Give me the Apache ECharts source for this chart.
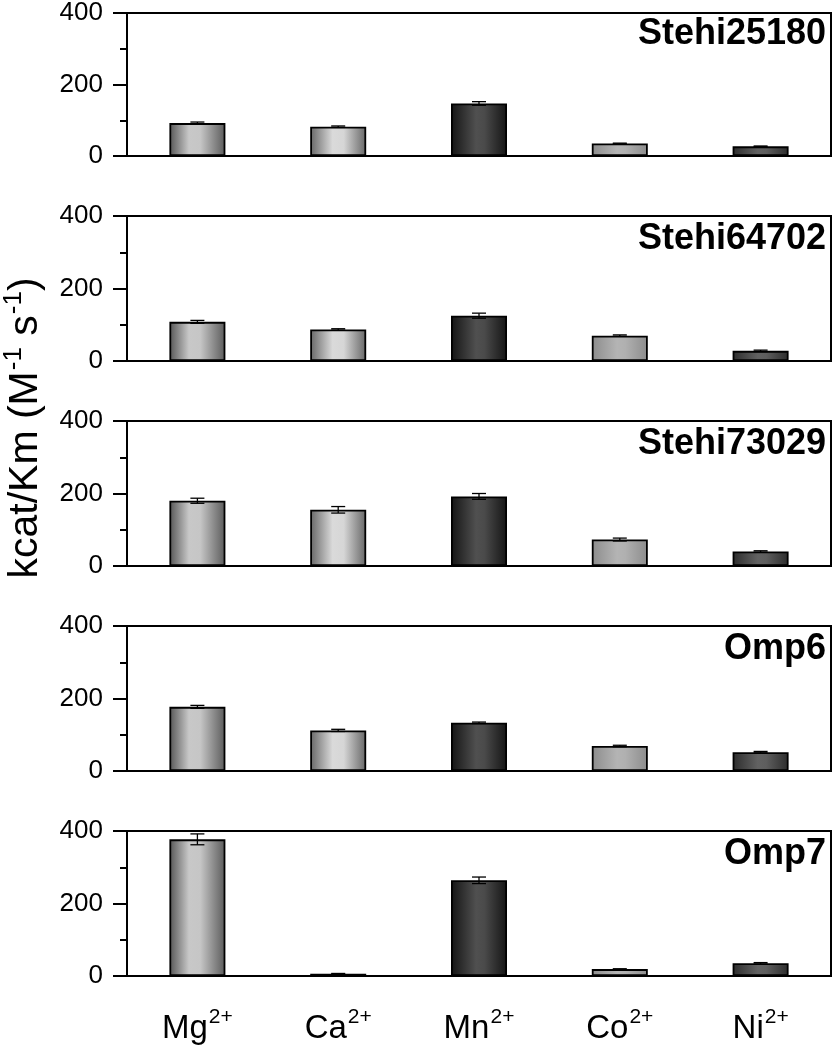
<!DOCTYPE html>
<html>
<head>
<meta charset="utf-8">
<script src="https://cdn.jsdelivr.net/npm/echarts@6/dist/echarts.min.js"></script>
<style>html,body{margin:0;padding:0;background:#fff;}#c{width:833px;height:1050px;}</style>
</head>
<body>
<div id="c"></div>
<script>
var categories = ['Mg', 'Ca', 'Mn', 'Co', 'Ni'];
var charges = ['2+', '2+', '2+', '2+', '2+'];
var panelNames = ['Stehi25180', 'Stehi64702', 'Stehi73029', 'Omp6', 'Omp7'];
var stehi25180 = [92, 82, 147, 35, 27];
var stehi25180Err = [3, 2, 5, 1, 1];
var stehi64702 = [108, 87, 125, 70, 28];
var stehi64702Err = [4, 2, 7, 2, 2];
var stehi73029 = [180, 155, 192, 73, 40];
var stehi73029Err = [7, 9, 8, 4, 2];
var omp6 = [177, 112, 133, 69, 52];
var omp6Err = [4, 3, 2, 2, 2];
var omp7 = [377, 6, 264, 19, 35];
var omp7Err = [15, 1, 9, 1, 2];
var yTicks = [0, 200, 400];

var panelValues = [stehi25180, stehi64702, stehi73029, omp6, omp7];
var panelErrs = [stehi25180Err, stehi64702Err, stehi73029Err, omp6Err, omp7Err];

function grad(stops) {
  return {type: 'linear', x: 0, y: 0, x2: 1, y2: 0,
    colorStops: stops.map(function (s) { return {offset: s[0], color: s[1]}; })};
}
var barColors = [
  grad([[0, '#555555'], [0.35, '#c8c8c8'], [0.55, '#c6c6c6'], [1, '#5a5a5a']]),
  grad([[0, '#666666'], [0.4, '#dadada'], [0.6, '#d6d6d6'], [1, '#666666']]),
  grad([[0, '#141414'], [0.45, '#505050'], [0.6, '#4a4a4a'], [1, '#141414']]),
  grad([[0, '#8c8c8c'], [0.45, '#b4b4b4'], [0.6, '#b0b0b0'], [1, '#8c8c8c']]),
  grad([[0, '#2c2c2c'], [0.45, '#626262'], [0.6, '#5e5e5e'], [1, '#2c2c2c']])
];

var font = '"Liberation Sans", Arial, sans-serif';
var tops = [11, 216, 421, 626, 831];
var H = 145;

var grids = [], xAxes = [], yAxes = [], series = [], titles = [];
tops.forEach(function (t, i) {
  grids.push({left: 127, right: 2, top: t, height: H, show: true, borderColor: '#000', borderWidth: 2, containLabel: false});
  xAxes.push({
    type: 'category', gridIndex: i, data: categories,
    axisLine: {lineStyle: {color: '#000', width: 2}},
    axisTick: {show: false},
    axisLabel: {
      show: i === tops.length - 1, margin: 33, interval: 0,
      formatter: function (v, idx) { return '{b|' + v + '}{s|' + charges[idx] + '}'; },
      rich: {
        b: {fontSize: 33, fontFamily: font, color: '#000', verticalAlign: 'bottom', lineHeight: 36},
        s: {fontSize: 21, fontFamily: font, color: '#000', verticalAlign: 'bottom', lineHeight: 21, padding: [0, 0, 17, 1]}
      }
    }
  });
  yAxes.push({
    type: 'value', gridIndex: i, min: yTicks[0], max: yTicks[yTicks.length - 1], interval: yTicks[1] - yTicks[0],
    axisLine: {show: true, lineStyle: {color: '#000', width: 2}},
    axisTick: {show: true, length: 14, lineStyle: {color: '#000', width: 2}},
    minorTick: {show: true, splitNumber: 2, length: 7, lineStyle: {color: '#000', width: 2}},
    splitLine: {show: false},
    axisLabel: {margin: 24, fontSize: 26, fontFamily: font, color: '#000'}
  });
  series.push({
    type: 'bar', xAxisIndex: i, yAxisIndex: i, barWidth: 56,
    data: panelValues[i].map(function (v, k) {
      return {value: v, itemStyle: {color: barColors[k]}};
    }),
    itemStyle: {borderColor: '#000', borderWidth: 1.8},
    emphasis: {disabled: true}, z: 2
  });
  series.push({
    type: 'custom', xAxisIndex: i, yAxisIndex: i, z: 5,
    data: panelValues[i].map(function (v, k) { return [k, v, panelErrs[i][k]]; }),
    encode: {x: 0, y: 1},
    renderItem: function (params, api) {
      var x = api.value(0), y = api.value(1), e = api.value(2);
      var hi = api.coord([x, y + e]);
      var lo = api.coord([x, y - e]);
      var hw = 7;
      var st = {stroke: '#000', lineWidth: 1.3};
      return {type: 'group', children: [
        {type: 'line', shape: {x1: hi[0], y1: hi[1], x2: lo[0], y2: lo[1]}, style: st},
        {type: 'line', shape: {x1: hi[0] - hw, y1: hi[1], x2: hi[0] + hw, y2: hi[1]}, style: st},
        {type: 'line', shape: {x1: lo[0] - hw, y1: lo[1], x2: lo[0] + hw, y2: lo[1]}, style: st}
      ]};
    }
  });
  titles.push({
    text: panelNames[i], right: 2, top: t + 0,
    textStyle: {fontSize: 36, fontWeight: 'bold', fontFamily: font, color: '#000'}
  });
});

var chart = echarts.init(document.getElementById('c'));
chart.setOption({
  animation: false,
  backgroundColor: '#fff',
  title: titles,
  grid: grids, xAxis: xAxes, yAxis: yAxes, series: series,
  graphic: [{
    type: 'text', x: 24, y: 428, rotation: Math.PI / 2,
    style: {
      text: '{m|kcat/Km (M}{s|-1}{m| s}{s|-1}{m|)}',
      fontSize: 41, fontFamily: font, fill: '#000',
      align: 'center', verticalAlign: 'middle',
      rich: {
        m: {fontSize: 41, fontFamily: font, fill: '#000', verticalAlign: 'bottom', lineHeight: 45},
        s: {fontSize: 26, fontFamily: font, fill: '#000', verticalAlign: 'bottom', lineHeight: 26, padding: [0, 0, 20, 1]}
      }
    }
  }]
});
</script>
</body>
</html>
